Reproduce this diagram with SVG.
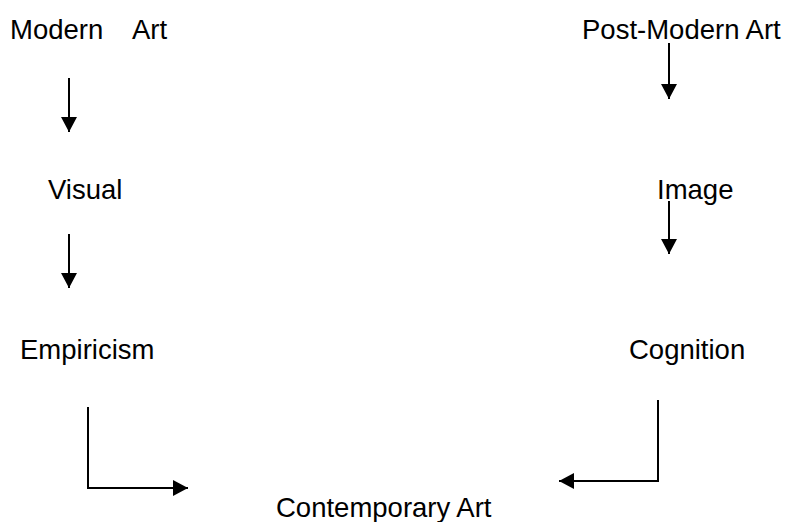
<svg xmlns="http://www.w3.org/2000/svg" width="789" height="522" viewBox="0 0 789 522">
<style>
text{font-family:"Liberation Sans",Arial,sans-serif;font-size:27.5px;fill:#000}
.c{fill:none;stroke:#000;stroke-width:2}
</style>
<defs>
<marker id="ah" markerUnits="userSpaceOnUse" markerWidth="16" markerHeight="16" refX="15" refY="8" orient="auto" viewBox="0 0 16 16">
<path d="M0,0 L15,8 L0,16 z" fill="#000"/>
</marker>
</defs>
<rect width="789" height="522" fill="#fff"/>
<g id="modern-art"><text x="10" y="39">Modern<tspan x="132">Art</tspan></text></g>
<g id="post-modern-art"><text x="582" y="39">Post-Modern Art</text></g>
<g id="visual"><text x="48" y="199">Visual</text></g>
<g id="image"><text x="657" y="199">Image</text></g>
<g id="empiricism"><text x="20" y="359">Empiricism</text></g>
<g id="cognition"><text x="629" y="359">Cognition</text></g>
<g id="contemporary-art"><text x="276" y="517">Contemporary Art</text></g>
<g id="connectors">
<path class="c" d="M69,78 V132" marker-end="url(#ah)"/>
<path class="c" d="M669,43 V99" marker-end="url(#ah)"/>
<path class="c" d="M69,234 V288" marker-end="url(#ah)"/>
<path class="c" d="M669,201 V254" marker-end="url(#ah)"/>
<path class="c" d="M88,407 V488 H188" marker-end="url(#ah)"/>
<path class="c" d="M658,400 V481 H559" marker-end="url(#ah)"/>
</g>
</svg>
